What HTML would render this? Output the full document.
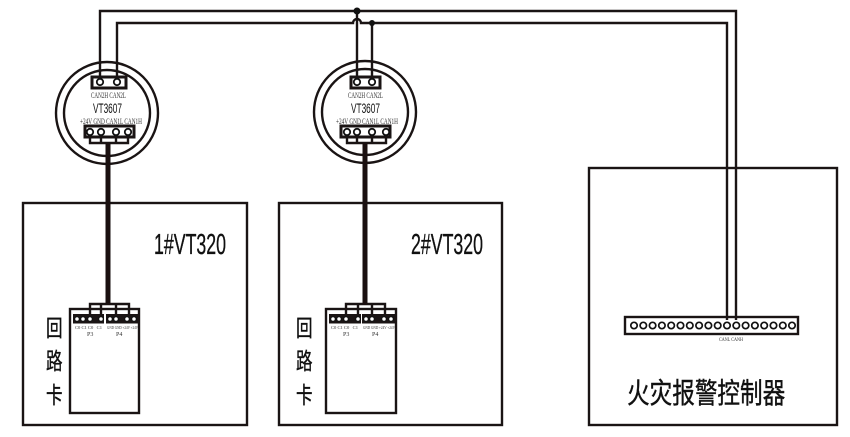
<!DOCTYPE html>
<html><head><meta charset="utf-8">
<style>
html,body{margin:0;padding:0;background:#fff;width:850px;height:437px;overflow:hidden}
svg{display:block;filter:blur(.3px)}
text{font-family:"Liberation Sans","Noto Sans CJK SC",sans-serif;fill:#111}
.s{font-family:"Liberation Serif","Noto Serif CJK SC",serif;fill:#333}
.b{stroke:#111;stroke-width:.35px}
</style></head><body>
<svg width="850" height="437" viewBox="0 0 850 437" xmlns="http://www.w3.org/2000/svg">
<g fill="none" stroke="#1a1414" stroke-width="2.4">
<!-- boxes -->
<rect x="23" y="203" width="224" height="222"/>
<rect x="279" y="203" width="223" height="222"/>
<rect x="589" y="168" width="248" height="257"/>
<!-- modules -->
<circle cx="107" cy="113" r="51"/><circle cx="107" cy="113" r="43"/>
<circle cx="365" cy="112" r="51"/><circle cx="365" cy="112" r="43"/>
<!-- bus -->
<path d="M100 82V11H736V320"/>
<path d="M117 82V23H353a4 4 0 0 1 8 0H727V320"/>
<path d="M357 11V82M372 23V82"/>
<!-- connectors -->
<g stroke-width="3">
<rect x="92" y="77" width="34" height="11"/>
<rect x="351" y="77" width="29" height="11"/>
<rect x="85" y="126" width="49" height="11"/>
<rect x="341" y="126" width="49" height="11"/>
</g>
<path d="M90 132V143H128V132M101 132V143M116 132V143"/>
<path d="M347 132V143H386V132M357 132V143M372 132V143"/>
<!-- cards -->
<rect x="70" y="309" width="69" height="104"/>
<rect x="326" y="309" width="70" height="104"/>
<path d="M90 318V304H129V318M101 304V318M116 304V318"/>
<path d="M346 318V304H385V318M358 304V318M372 304V318"/>
<rect x="625" y="317" width="173" height="17"/>
</g>
<!-- thick cables -->
<g stroke="#1a1010" stroke-width="5" fill="none">
<path d="M108 143V305"/><path d="M365 143V305"/>
</g>
<!-- junctions -->
<circle cx="357" cy="11" r="3.5" fill="#111"/><circle cx="372" cy="23" r="3" fill="#111"/>
<!-- card strips -->
<g fill="#1a1414">
<rect x="73" y="314" width="31" height="9.5"/><rect x="106" y="314" width="33" height="9.5"/>
<rect x="329" y="314" width="32" height="9.5"/><rect x="362" y="314" width="34" height="9.5"/>
</g>
<g fill="#fff" stroke="#111" stroke-width="1.3">
<circle cx="77" cy="319" r="2.4"/><circle cx="83" cy="319" r="2.4"/><circle cx="90" cy="319" r="2.4"/><circle cx="101" cy="319" r="2.4"/><circle cx="110" cy="319" r="2.4"/><circle cx="116" cy="319" r="2.4"/><circle cx="127" cy="319" r="2.4"/><circle cx="134" cy="319" r="2.4"/>
<circle cx="333" cy="319" r="2.4"/><circle cx="339" cy="319" r="2.4"/><circle cx="346" cy="319" r="2.4"/><circle cx="358" cy="319" r="2.4"/><circle cx="366" cy="319" r="2.4"/><circle cx="372" cy="319" r="2.4"/><circle cx="384" cy="319" r="2.4"/><circle cx="391" cy="319" r="2.4"/>
<g stroke-width="1.8">
<circle cx="100" cy="82" r="3.2"/><circle cx="117" cy="82" r="3.2"/>
<circle cx="357" cy="82" r="3.2"/><circle cx="372" cy="82" r="3.2"/>
<circle cx="90" cy="132" r="3.2"/><circle cx="101" cy="132" r="3.2"/><circle cx="116" cy="132" r="3.2"/><circle cx="128" cy="132" r="3.2"/>
<circle cx="347" cy="132" r="3.2"/><circle cx="357" cy="132" r="3.2"/><circle cx="372" cy="132" r="3.2"/><circle cx="386" cy="132" r="3.2"/>
</g>
<g stroke-width="1.7">
<circle cx="634" cy="325.5" r="3.2"/><circle cx="643.3" cy="325.5" r="3.2"/><circle cx="652.6" cy="325.5" r="3.2"/><circle cx="661.9" cy="325.5" r="3.2"/><circle cx="671.2" cy="325.5" r="3.2"/><circle cx="680.5" cy="325.5" r="3.2"/><circle cx="689.8" cy="325.5" r="3.2"/><circle cx="699.1" cy="325.5" r="3.2"/><circle cx="708.4" cy="325.5" r="3.2"/><circle cx="717.7" cy="325.5" r="3.2"/><circle cx="727" cy="325.5" r="3.2"/><circle cx="736.3" cy="325.5" r="3.2"/><circle cx="745.6" cy="325.5" r="3.2"/><circle cx="754.9" cy="325.5" r="3.2"/><circle cx="764.2" cy="325.5" r="3.2"/><circle cx="773.5" cy="325.5" r="3.2"/><circle cx="782.8" cy="325.5" r="3.2"/><circle cx="792" cy="325.5" r="3.2"/>
</g>
</g>
<!-- module labels -->
<text class="s" x="91" y="98" font-size="8" textLength="35" lengthAdjust="spacingAndGlyphs">CAN2H CAN2L</text>
<text x="93" y="113" font-size="14" textLength="29" lengthAdjust="spacingAndGlyphs">VT3607</text>
<text class="s" x="80" y="124" font-size="8" textLength="62" lengthAdjust="spacingAndGlyphs">+24V GND CAN1L CAN1H</text>
<text class="s" x="348" y="98" font-size="8" textLength="35" lengthAdjust="spacingAndGlyphs">CAN2H CAN2L</text>
<text x="351" y="113" font-size="14" textLength="29" lengthAdjust="spacingAndGlyphs">VT3607</text>
<text class="s" x="336" y="124" font-size="8" textLength="62" lengthAdjust="spacingAndGlyphs">+24V GND CAN1L CAN1H</text>
<!-- card labels -->
<text class="s" x="75" y="329" font-size="4.5" textLength="27" lengthAdjust="spacingAndGlyphs">C0 C1 C0 &#160;&#160;C1</text>
<text class="s" x="107" y="329" font-size="4.5" textLength="31" lengthAdjust="spacingAndGlyphs">GND GND +24V +24V</text>
<text class="s" x="87" y="336" font-size="6">P3</text>
<text class="s" x="116" y="336" font-size="6">P4</text>
<text class="s" x="331" y="329" font-size="4.5" textLength="27" lengthAdjust="spacingAndGlyphs">C0 C1 C0 &#160;&#160;C1</text>
<text class="s" x="363" y="329" font-size="4.5" textLength="32" lengthAdjust="spacingAndGlyphs">GND GND +24V +24V</text>
<text class="s" x="343" y="336" font-size="6">P3</text>
<text class="s" x="372" y="336" font-size="6">P4</text>
<text class="s" x="719" y="341" font-size="5" textLength="24" lengthAdjust="spacingAndGlyphs">CANL CANH</text>
<!-- titles -->
<text class="b" x="154" y="254" font-size="29" textLength="72" lengthAdjust="spacingAndGlyphs">1#VT320</text>
<text class="b" x="411" y="254" font-size="29" textLength="72" lengthAdjust="spacingAndGlyphs">2#VT320</text>
<g class="b">
<text transform="translate(46 336) scale(.72 1)" font-size="23">回</text>
<text transform="translate(46 369) scale(.72 1)" font-size="23">路</text>
<text transform="translate(46 403) scale(.72 1)" font-size="23">卡</text>
<text transform="translate(296 336) scale(.72 1)" font-size="23">回</text>
<text transform="translate(296 369) scale(.72 1)" font-size="23">路</text>
<text transform="translate(296 403) scale(.72 1)" font-size="23">卡</text>
</g>
<text class="b" transform="translate(627 403) scale(.86 1.1)" font-size="26" textLength="184" lengthAdjust="spacingAndGlyphs">火灾报警控制器</text>
</svg>
</body></html>
